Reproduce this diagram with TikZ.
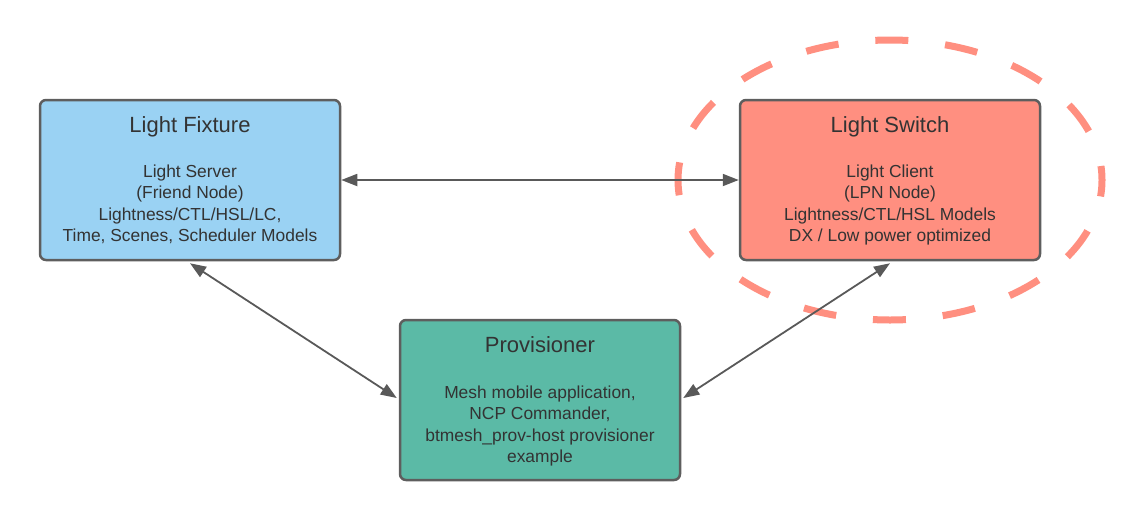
\documentclass[tikz,border=0pt]{standalone}
\usepackage{fontspec}
\setmainfont{Liberation Sans}
\usetikzlibrary{arrows.meta}
\definecolor{fixblue}{HTML}{9AD2F3}
\definecolor{swsalmon}{HTML}{FF8F80}
\definecolor{provgreen}{HTML}{5BBAA6}
\definecolor{boxborder}{HTML}{5E5E5E}
\definecolor{txt}{HTML}{333333}
\definecolor{arrowgray}{HTML}{595959}
\tikzset{
  box/.style={draw=boxborder, line width=2.5pt, rounded corners=6pt, minimum height=160pt, inner sep=0pt},
  titletext/.style={font=\fontsize{22}{26}\selectfont, text=txt, inner sep=0pt},
  bodytext/.style={font=\fontsize{17.4}{21.4}\selectfont, text=txt, align=center, inner sep=0pt},
  link/.style={draw=arrowgray, line width=1.8pt, {Triangle[length=16pt,width=12pt]}-{Triangle[length=16pt,width=12pt]}},
  lpnring/.style={draw=swsalmon, line width=7pt, dash pattern=on 33pt off 37pt, dash phase=16.5pt}
}
\begin{document}
\begin{tikzpicture}[x=1pt,y=-1pt]
\useasboundingbox (0,0) rectangle (1140,520);
% ring
\draw[lpnring] (890,180) ellipse [x radius=212, y radius=140];
% boxes
\node[box, fill=fixblue, minimum width=300pt] (fix) at (190,180) {};
\node[box, fill=swsalmon, minimum width=300pt] (sw) at (890,180) {};
\node[box, fill=provgreen, minimum width=280pt] (prov) at (540,400) {};
% texts
\node[titletext, anchor=base] (fixt) at ([yshift=-34pt]fix.north) {Light Fixture};
\node[bodytext, anchor=base] (fixb) at ([yshift=-143pt]fix.north) {Light Server\\(Friend Node)\\Lightness/CTL/HSL/LC,\\Time, Scenes, Scheduler Models};
\node[titletext, anchor=base] (swt) at ([yshift=-34pt]sw.north) {Light Switch};
\node[bodytext, anchor=base] (swb) at ([yshift=-143pt]sw.north) {Light Client\\(LPN Node)\\Lightness/CTL/HSL Models\\DX / Low power optimized};
\node[titletext, anchor=base] (provt) at ([yshift=-34pt]prov.north) {Provisioner};
\node[bodytext, anchor=base] (provb) at ([yshift=-144pt]prov.north) {Mesh mobile application,\\NCP Commander,\\btmesh\_prov-host provisioner\\example};
% connectors
\draw[link] (fix.east) -- (sw.west);
\draw[link] ([yshift=-2pt]fix.south) -- ([xshift=-2pt,yshift=2pt]prov.west);
\draw[link] ([xshift=2pt,yshift=2pt]prov.east) -- ([yshift=-2pt]sw.south);
\end{tikzpicture}
\end{document}
